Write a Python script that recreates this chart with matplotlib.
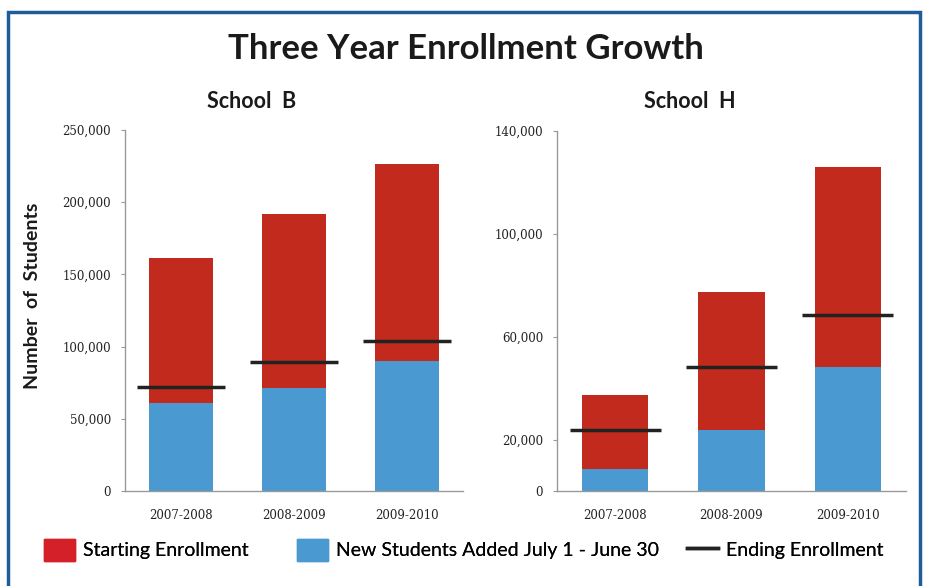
import matplotlib.pyplot as plt
from matplotlib.patches import Rectangle
from matplotlib.lines import Line2D
from matplotlib.ticker import FuncFormatter

years = ['2007-2008', '2008-2009', '2009-2010']

# School B
b_new = [61000, 71300, 90000]
b_start = [100400, 120500, 136400]
b_end = [72000, 89300, 103900]

# School H
h_new = [8500, 23700, 48200]
h_start = [28800, 53700, 77800]
h_end = [23700, 48200, 68400]

red = '#C12A1C'
blue = '#4A99D0'
sans = 'Lato'
serif = 'DejaVu Serif'

fig = plt.figure(figsize=(9.25, 5.86), dpi=100)
W, H = 925, 586

# blue frame around the whole chart
fig.patches.append(Rectangle((8 / W, -0.05), 912 / W, 0.05 + (H - 12) / H,
                             transform=fig.transFigure, fill=False,
                             edgecolor='#1F5C99', lw=2.5))

fig.text(466 / W, (H - 49) / H, 'Three Year Enrollment Growth', ha='center',
         va='center', fontsize=25, fontweight='bold', family=sans, color='#1a1a1a')


def draw(ax, new, start, end, ymax, ticks):
    x = range(len(years))
    ax.bar(x, new, width=0.57, color=blue, zorder=2)
    ax.bar(x, start, bottom=new, width=0.57, color=red, zorder=2)
    for i, v in enumerate(end):
        ax.plot([i - 0.39, i + 0.39], [v, v], color='#222222', lw=2.5,
                solid_capstyle='butt', zorder=3)
    ax.set_xlim(-0.5, 2.5)
    ax.set_ylim(0, ymax)
    ax.set_yticks(ticks)
    ax.yaxis.set_major_formatter(FuncFormatter(lambda v, p: f'{int(v):,}'))
    ax.set_xticks(list(x))
    ax.set_xticklabels(years)
    for s in ['top', 'right']:
        ax.spines[s].set_visible(False)
    for s in ['left', 'bottom']:
        ax.spines[s].set_color('#999999')
        ax.spines[s].set_linewidth(1)
    ax.tick_params(axis='y', length=3, color='#999999', pad=7, labelsize=8.5)
    ax.tick_params(axis='x', length=0, pad=13, labelsize=8.5)
    for lab in ax.get_xticklabels() + ax.get_yticklabels():
        lab.set_family(serif)
        lab.set_color('#222222')


ax1 = fig.add_axes([125 / W, 95 / H, 338 / W, 361 / H])
draw(ax1, b_new, b_start, b_end, 250000,
     [0, 50000, 100000, 150000, 200000, 250000])

ax2 = fig.add_axes([557 / W, 95 / H, 349 / W, 360 / H])
draw(ax2, h_new, h_start, h_end, 140000,
     [0, 20000, 60000, 100000, 140000])

# subplot titles and shared y label
fig.text(252 / W, (H - 102) / H, 'School  B', ha='center', va='center',
         fontsize=15.5, fontweight='bold', family=sans, color='#1a1a1a')
fig.text(690 / W, (H - 102) / H, 'School  H', ha='center', va='center',
         fontsize=15.5, fontweight='bold', family=sans, color='#1a1a1a')
fig.text(33 / W, (H - 296) / H, 'Number  of  Students', ha='center', va='center',
         rotation=90, fontsize=14, fontweight='bold', family=sans, color='#1a1a1a')

# legend, one entry at a time so each sits where the reference has it
handles = [Rectangle((0, 0), 1, 1, color='#D42028'),
           Rectangle((0, 0), 1, 1, color=blue),
           Line2D([0], [0], color='#222222', lw=2.5)]
labels = ['Starting Enrollment', 'New Students Added July 1 - June 30',
          'Ending Enrollment']
starts = [44, 297, 687]
for hnd, lab, x0 in zip(handles, labels, starts):
    leg = fig.legend([hnd], [lab], loc='center left',
                     bbox_to_anchor=(x0 / W, (H - 550) / H),
                     frameon=False, prop={'family': sans, 'size': 14},
                     handlelength=1.6, handleheight=1.4, handletextpad=0.4,
                     borderpad=0, borderaxespad=0)
    fig.add_artist(leg)

fig.savefig('out.png', dpi=100)
